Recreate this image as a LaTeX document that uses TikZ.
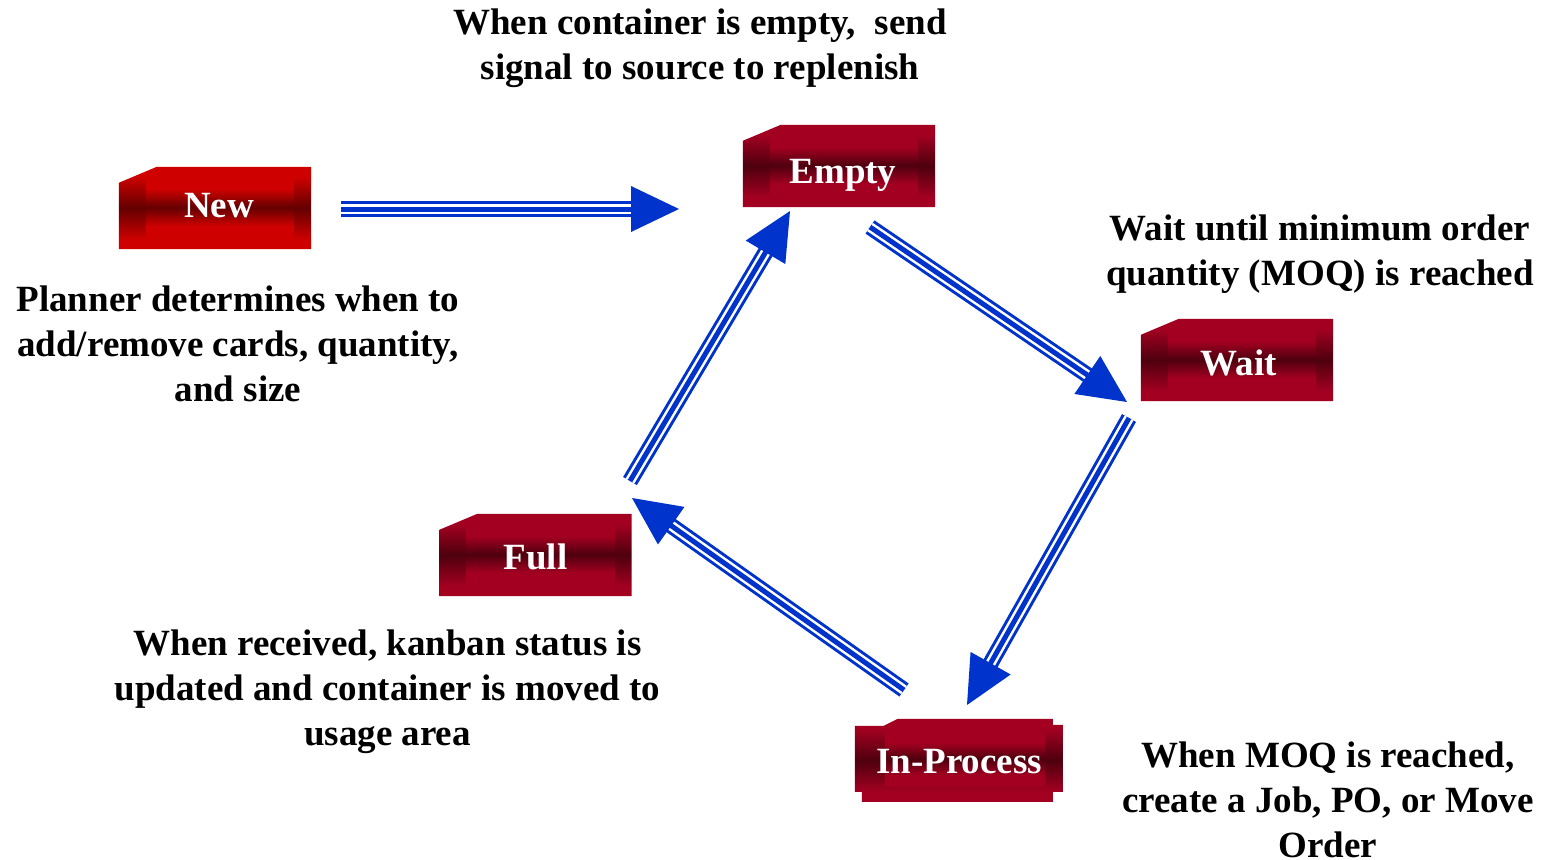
\documentclass[tikz,border=0pt]{standalone}
\usepackage{fontspec}
\setmainfont{Liberation Serif}
\usetikzlibrary{calc,backgrounds}

\definecolor{kbblue}{RGB}{0,51,204}
\definecolor{newlight}{RGB}{206,0,0}
\definecolor{newdark}{RGB}{100,0,0}
\definecolor{boxlight}{RGB}{163,0,33}
\definecolor{boxdark}{RGB}{78,0,14}

% vertical shadings: light top and bottom, dark band through the middle
\pgfdeclareverticalshading{newouter}{100bp}{color(0bp)=(newlight); color(25bp)=(newlight); color(31bp)=(newlight); color(50bp)=(newdark); color(69bp)=(newlight); color(75bp)=(newlight); color(100bp)=(newlight)}
\pgfdeclareverticalshading{newinner}{100bp}{color(0bp)=(newlight); color(25bp)=(newlight); color(35bp)=(newlight); color(50bp)=(newdark); color(65bp)=(newlight); color(75bp)=(newlight); color(100bp)=(newlight)}
\pgfdeclareverticalshading{boxouter}{100bp}{color(0bp)=(boxlight); color(25bp)=(boxlight); color(31bp)=(boxlight); color(50bp)=(boxdark); color(69bp)=(boxlight); color(75bp)=(boxlight); color(100bp)=(boxlight)}
\pgfdeclareverticalshading{boxinner}{100bp}{color(0bp)=(boxlight); color(25bp)=(boxlight); color(35bp)=(boxlight); color(50bp)=(boxdark); color(65bp)=(boxlight); color(75bp)=(boxlight); color(100bp)=(boxlight)}

% bevelled card behind a status node: chamfered outline plus inner panel
\newcommand\kbshape[3]{%
  \shade[shading=#2] ($(#1.north west)+(38,0)$) -- (#1.north east) -- (#1.south east)
    -- (#1.south west) -- ($(#1.north west)+(0,16)$) -- cycle;
  \shade[shading=#3] ($(#1.north west)+(27,10)$) rectangle ($(#1.south east)+(-17,-11)$);
}

% triple-line arrow with a solid triangular head
\newcommand\kbarrow[2]{%
  \coordinate (#2-base) at ($(#2)!48pt!(#1)$);
  \coordinate (#2-stop) at ($(#2)!46pt!(#1)$);
  \draw[kbblue, line width=16pt] (#1) -- (#2-stop);
  \draw[white, line width=10pt] (#1) -- (#2-stop);
  \draw[kbblue, line width=5pt] (#1) -- (#2-stop);
  \fill[kbblue] (#2) -- ($(#2-base)!23pt!90:(#2)$) -- ($(#2-base)!23pt!-90:(#2)$) -- cycle;
}

\begin{document}
\begin{tikzpicture}[x=1pt,y=-1pt,
  lbl/.style={font={\fontsize{37}{45}\selectfont\bfseries}, align=center, inner sep=0pt},
  kbbox/.style={minimum width=192pt, minimum height=82pt, inner sep=0pt, text=white,
    font={\fontsize{37}{45}\selectfont\bfseries}, text height=25pt, text depth=0pt}]
\useasboundingbox (0,0) rectangle (1552,859);

% status cards
\node[kbbox, text height=18pt] (new)   at (215,208)   {\hspace*{8pt}New};
\node[kbbox, text height=34pt] (empty) at (839,166)   {\hspace*{8pt}Empty};
\node[kbbox, text height=30pt] (wait)  at (1237,360)  {\hspace*{4pt}Wait};
\node[kbbox, text height=28pt] (full)  at (535.5,555) {Full};
\node[kbbox, minimum width=208pt, minimum height=83pt] (inproc) at (959,760.5) {In-Process};

\begin{pgfonlayer}{background}
  \fill[white] (0,0) rectangle (1552,859);
  \kbshape{new}{newouter}{newinner}
  \kbshape{empty}{boxouter}{boxinner}
  \kbshape{wait}{boxouter}{boxinner}
  \kbshape{full}{boxouter}{boxinner}
  \shade[shading=boxouter] ($(inproc.north west)+(0,7)$) -- ++(29,0) -- ++(14,-7) -- ++(155,0)
    -- ++(0,6) -- ++(10,0) -- ++(0,67) -- ++(-10,0) -- ++(0,10) -- ++(-191,0) -- ++(0,-10)
    -- ++(-7,0) -- cycle;
  \shade[shading=boxinner] ($(inproc.north west)+(30,13)$) rectangle ($(inproc.south east)+(-18,-16)$);
\end{pgfonlayer}

% descriptions
\node[lbl] (topnote)   at (700,48)    {\strut When container is empty,~ send\\ signal to source to replenish\strut};
\node[lbl] (newnote)   at (238,347)   {\strut Planner determines when to\\ add/remove cards, quantity,\\ and size\strut};
\node[lbl] (waitnote)  at (1320,253.5){\strut Wait until minimum order\\ quantity (MOQ) is reached\strut};
\node[lbl] (fullnote)  at (387.5,691) {\strut When received, kanban status is\\ updated and container is moved to\\ usage area\strut};
\node[lbl] (procnote)  at (1328,803.5){\strut When MOQ is reached,\\ create a Job, PO, or Move\\ Order\strut};

% cycle connectors
\coordinate (a1s) at (341,209);  \coordinate (a1e) at (679,209);
\coordinate (a2s) at (870,227);  \coordinate (a2e) at (1127,402);
\coordinate (a3s) at (1129,418); \coordinate (a3e) at (967,705);
\coordinate (a4s) at (904,690);  \coordinate (a4e) at (632,498);
\coordinate (a5s) at (630,481);  \coordinate (a5e) at (790,211);
\kbarrow{a1s}{a1e}
\kbarrow{a2s}{a2e}
\kbarrow{a3s}{a3e}
\kbarrow{a4s}{a4e}
\kbarrow{a5s}{a5e}
\end{tikzpicture}
\end{document}
